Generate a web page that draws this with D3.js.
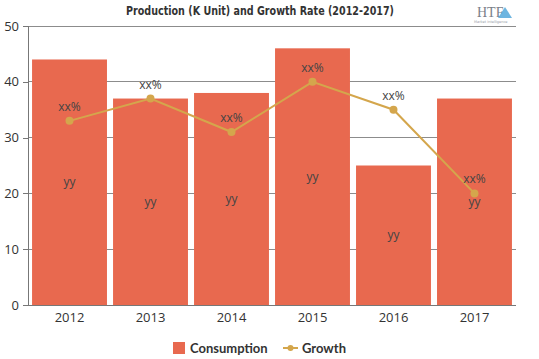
<!DOCTYPE html>
<html><head><meta charset="utf-8">
<script src="https://cdn.jsdelivr.net/npm/d3@7"></script>
<style>body{margin:0;background:#fff}svg{display:block}</style>
</head><body>
<script>
const years = ["2012","2013","2014","2015","2016","2017"];
const consumption = [44, 37, 38, 46, 25, 37];
const growth = [33, 37, 31, 40, 35, 20];
const barLabels = ["yy","yy","yy","yy","yy","yy"];
const growthLabels = ["xx%","xx%","xx%","xx%","xx%","xx%"];
const yTicks = [0,10,20,30,40,50];
const title = "Production (K Unit) and Growth Rate (2012-2017)";

const W = 539, H = 359;
const m = {left: 28, right: 23, top: 26, bottom: 54};
const svg = d3.select("body").append("svg").attr("width", W).attr("height", H);
const x = d3.scaleBand().domain(years).range([m.left, W - m.right]).paddingInner(0.075).paddingOuter(0.05);
const y = d3.scaleLinear().domain([0, 50]).range([H - m.bottom, m.top]);
const barColor = "#e8694f", lineColor = "#d4a64c", txt = "#333";

// gridlines
svg.append("g").selectAll("line").data(yTicks.filter(d => d > 0)).join("line")
  .attr("x1", m.left).attr("x2", W - m.right)
  .attr("y1", d => y(d)).attr("y2", d => y(d))
  .attr("stroke", "#8c8c8c").attr("stroke-width", 1).attr("shape-rendering", "crispEdges");

// bars
svg.append("g").selectAll("rect").data(years).join("rect")
  .attr("x", d => x(d)).attr("width", x.bandwidth())
  .attr("y", (d, i) => y(consumption[i])).attr("height", (d, i) => y(0) - y(consumption[i]))
  .attr("fill", barColor);

// axes
const yAxis = svg.append("g").attr("transform", `translate(${m.left},0)`)
  .call(d3.axisLeft(y).tickValues(yTicks).tickSize(5).tickPadding(4));
const xAxis = svg.append("g").attr("transform", `translate(0,${y(0)})`)
  .call(d3.axisBottom(x).tickSize(0).tickPadding(8));
[yAxis, xAxis].forEach(g => {
  g.selectAll("path,line").attr("stroke", "#777").attr("shape-rendering", "crispEdges");
  g.selectAll("text").attr("fill", txt).style("font-family", "'Open Sans', sans-serif").style("font-size", "13px");
});
yAxis.select(".domain").attr("d", `M0,${y(0)}V${y(50)}`);
xAxis.select(".domain").attr("d", `M${m.left},0H${W - m.right}`);

// bar labels
svg.append("g").selectAll("text").data(years).join("text")
  .attr("x", d => x(d) + x.bandwidth() / 2)
  .attr("y", (d, i) => y(consumption[i] / 2))
  .attr("text-anchor", "middle").attr("dy", "0.35em")
  .attr("fill", "#444").style("font-family", "'Open Sans', sans-serif").style("font-size", "12px")
  .text((d, i) => barLabels[i]);

// growth line
const cx = d => x(d) + x.bandwidth() / 2;
svg.append("path").datum(years)
  .attr("d", d3.line().x(d => cx(d)).y((d, i) => y(growth[i])))
  .attr("fill", "none").attr("stroke", lineColor).attr("stroke-width", 2);
svg.append("g").selectAll("circle").data(years).join("circle")
  .attr("cx", d => cx(d)).attr("cy", (d, i) => y(growth[i])).attr("r", 4)
  .attr("fill", lineColor);
svg.append("g").selectAll("text").data(years).join("text")
  .attr("x", d => cx(d)).attr("y", (d, i) => y(growth[i]) - 10)
  .attr("text-anchor", "middle")
  .attr("fill", "#444").style("font-family", "'Open Sans', sans-serif").style("font-size", "12px")
  .text((d, i) => growthLabels[i]);

// title
svg.append("text").attr("x", 260).attr("y", 15).attr("text-anchor", "middle")
  .attr("textLength", 268).attr("lengthAdjust", "spacingAndGlyphs")
  .attr("fill", "#333").style("font-family", "'DejaVu Sans Condensed', 'DejaVu Sans', sans-serif")
  .style("font-weight", "bold").style("font-size", "13px").text(title);

// logo
const logo = svg.append("g");
logo.append("text").attr("x", 477).attr("y", 17).attr("fill", "#7a7f8a")
  .style("font-family", "'Liberation Serif', serif").style("font-size", "14px").text("HTF");
logo.append("path").attr("d", "M505,7 L512,18 L498,18 Z").attr("fill", "#4aa3d8").attr("opacity", 0.8);
logo.append("text").attr("x", 474).attr("y", 23).attr("fill", "#9aa0a8")
  .style("font-family", "'DejaVu Sans', sans-serif").style("font-size", "3.5px").text("Market Intelligence");

// legend
const lg = svg.append("g").style("font-family", "Lato, 'Open Sans', sans-serif").style("font-size", "13px").style("font-weight", "bold");
lg.append("rect").attr("x", 173).attr("y", 342).attr("width", 12).attr("height", 12).attr("fill", barColor);
lg.append("text").attr("x", 190).attr("y", 353).attr("fill", txt).text("Consumption");
lg.append("line").attr("x1", 283).attr("x2", 298).attr("y1", 348).attr("y2", 348).attr("stroke", lineColor).attr("stroke-width", 2);
lg.append("circle").attr("cx", 290.5).attr("cy", 348).attr("r", 3).attr("fill", lineColor);
lg.append("text").attr("x", 302).attr("y", 353).attr("fill", txt).text("Growth");
</script>
</body></html>
